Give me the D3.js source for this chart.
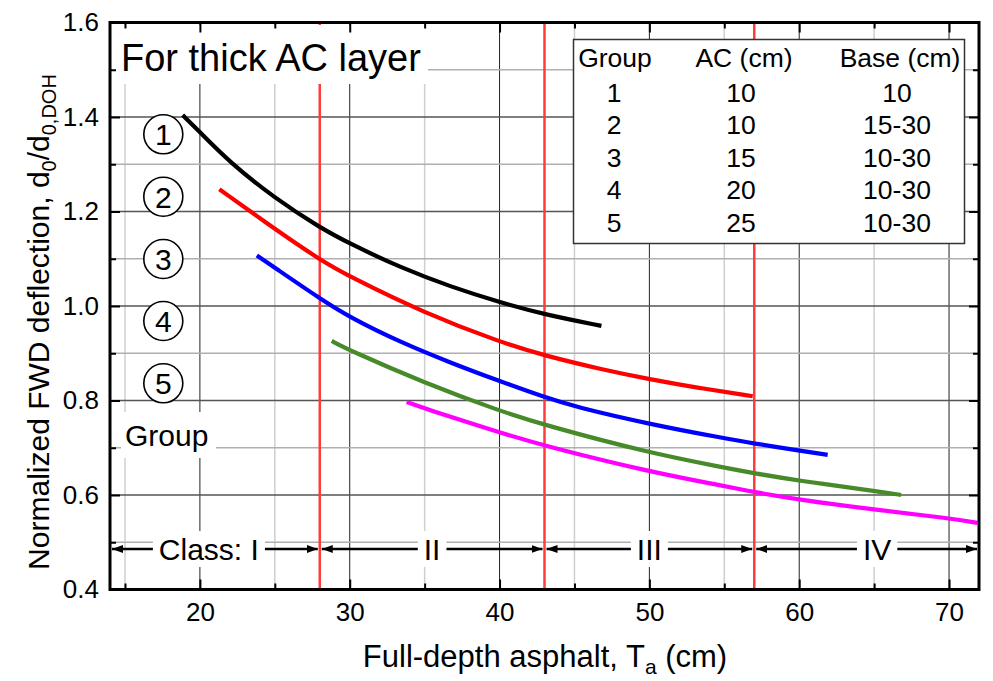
<!DOCTYPE html>
<html>
<head>
<meta charset="utf-8">
<script src="https://cdn.jsdelivr.net/npm/d3@7"></script>
<style>
  body { margin: 0; background: #fff; }
  text { font-family: "Liberation Sans", Arial, sans-serif; }
</style>
</head>
<body>
<div id="viz"></div>
<script>
// data
const g1x = [18.85, 20, 22, 25, 28, 30, 33.4, 36.8, 40, 43, 46.8];
const g1y = [1.404, 1.368, 1.304, 1.228, 1.166, 1.132, 1.081, 1.040, 1.008, 0.982, 0.958];
const g2x = [21.3, 25, 28, 30, 35, 40, 43, 46.8, 50, 53.4, 56.9];
const g2y = [1.247, 1.163, 1.098, 1.062, 0.985, 0.924, 0.895, 0.866, 0.845, 0.826, 0.809];
const g3x = [23.8, 25, 28, 30, 33.4, 36.8, 40, 43, 45, 50, 55, 57, 60, 61.9];
const g3y = [1.107, 1.081, 1.016, 0.976, 0.923, 0.879, 0.841, 0.807, 0.787, 0.750, 0.720, 0.709, 0.694, 0.685];
const g4x = [28.8, 30, 35, 40, 43, 50, 55, 57, 60, 65, 66.8];
const g4y = [0.926, 0.906, 0.837, 0.778, 0.748, 0.689, 0.658, 0.646, 0.630, 0.609, 0.600];
const g5x = [33.8, 35, 40, 43, 50, 55, 57, 60, 65, 70, 71.9];
const g5y = [0.797, 0.783, 0.732, 0.704, 0.649, 0.619, 0.606, 0.590, 0.569, 0.551, 0.541];
const groupColors = ["#000000", "#ff0000", "#0000ff", "#468a2a", "#ff00ff"];

const xMajor = [20, 30, 40, 50, 60, 70];
const xMinor = [15, 25, 35, 45, 55, 65];
const yMajor = [0.4, 0.6, 0.8, 1.0, 1.2, 1.4, 1.6];
const yMinor = [0.5, 0.7, 0.9, 1.1, 1.3, 1.5];

const classBounds = [14, 28, 43, 57, 72];
const classLabels = ["Class: I", "II", "III", "IV"];
const classLabelX = [20.6, 35.5, 50, 65.2];

const legendHead = ["Group", "AC (cm)", "Base (cm)"];
const legendGroup = ["1", "2", "3", "4", "5"];
const legendAC = ["10", "10", "15", "20", "25"];
const legendBase = ["10", "15-30", "10-30", "10-30", "10-30"];

const W = 993, H = 681;
const svg = d3.select("#viz").append("svg").attr("width", W).attr("height", H);

const x = d3.scaleLinear().domain([14, 72]).range([110, 979]);
const y = d3.scaleLinear().domain([0.4, 1.6]).range([589.5, 22.5]);
const pTop = y.range()[1], pBot = y.range()[0], pLeft = x.range()[0], pRight = x.range()[1];

// grid
const grid = svg.append("g");
grid.selectAll(".vmin").data(xMinor).join("line")
  .attr("x1", d => x(d)).attr("x2", d => x(d)).attr("y1", pTop).attr("y2", pBot)
  .attr("stroke", "#cfcfcf").attr("stroke-width", 1.5);
grid.selectAll(".vmaj").data(xMajor).join("line")
  .attr("x1", d => x(d)).attr("x2", d => x(d)).attr("y1", pTop).attr("y2", pBot)
  .attr("stroke", "#222").attr("stroke-width", 1);
grid.selectAll(".hmin").data(yMinor).join("line")
  .attr("x1", pLeft).attr("x2", pRight).attr("y1", d => y(d)).attr("y2", d => y(d))
  .attr("stroke", "#b0b0b0").attr("stroke-width", 1.5);
grid.selectAll(".hmaj").data(yMajor).join("line")
  .attr("x1", pLeft).attr("x2", pRight).attr("y1", d => y(d)).attr("y2", d => y(d))
  .attr("stroke", "#555").attr("stroke-width", 1.5);

// red class boundaries
svg.append("g").selectAll("line").data(classBounds.slice(1, -1)).join("line")
  .attr("x1", d => x(d)).attr("x2", d => x(d)).attr("y1", pTop).attr("y2", pBot)
  .attr("stroke", "#ff3c3c").attr("stroke-width", 2.5);

// curves
const series = [[g1x, g1y], [g2x, g2y], [g3x, g3y], [g4x, g4y], [g5x, g5y]];
const line = d3.line().x(d => x(d[0])).y(d => y(d[1])).curve(d3.curveBasis);
svg.append("g").selectAll("path").data(series).join("path")
  .attr("d", s => line(s[0].map((v, i) => [v, s[1][i]])))
  .attr("fill", "none")
  .attr("stroke", (s, i) => groupColors[i])
  .attr("stroke-width", 4.2)
  .attr("stroke-linecap", "butt");

// class arrows
const defs = svg.append("defs");
defs.append("marker").attr("id", "arr").attr("viewBox", "0 0 11 8")
  .attr("refX", 11).attr("refY", 4).attr("markerWidth", 11).attr("markerHeight", 8)
  .attr("markerUnits", "userSpaceOnUse").attr("orient", "auto-start-reverse")
  .append("path").attr("d", "M0,0L11,4L0,8Z").attr("fill", "#000");
const ay = 549;
const cls = svg.append("g");
cls.selectAll("line").data(d3.range(classLabels.length)).join("line")
  .attr("x1", i => x(classBounds[i]) + 2).attr("x2", i => x(classBounds[i + 1]) - 2)
  .attr("y1", ay).attr("y2", ay)
  .attr("stroke", "#000").attr("stroke-width", 2.5)
  .attr("marker-start", "url(#arr)").attr("marker-end", "url(#arr)");
cls.selectAll("text").data(classLabels).join("text")
  .attr("x", (d, i) => x(classLabelX[i])).attr("y", ay + 11)
  .attr("text-anchor", "middle").attr("font-size", 30).text(d => d)
  .each(function () {
    const b = this.getBBox();
    d3.select(this.parentNode).insert("rect", "text")
      .attr("x", b.x - 6).attr("y", ay - 18).attr("width", b.width + 12).attr("height", 36)
      .attr("fill", "#fff");
  });

// title label
svg.append("rect").attr("x", 112).attr("y", 25).attr("width", 316).attr("height", 59).attr("fill", "#fff");
svg.append("text").attr("x", 121).attr("y", 71).attr("font-size", 38).text("For thick AC layer");

// circled group numbers
const circleY = [134.3, 196.7, 259, 321, 383.3];
const circ = svg.append("g").selectAll("g").data(legendGroup).join("g")
  .attr("transform", (d, i) => `translate(163.3,${circleY[i]})`);
circ.append("circle").attr("r", 19.5).attr("fill", "#fff").attr("stroke", "#000").attr("stroke-width", 1.6);
circ.append("text").attr("text-anchor", "middle").attr("dy", "0.36em").attr("font-size", 30).text(d => d);

svg.append("rect").attr("x", 121).attr("y", 412).attr("width", 95).attr("height", 46).attr("fill", "#fff");
svg.append("text").attr("x", 125).attr("y", 446).attr("font-size", 30).text("Group");

// legend table
const lg = svg.append("g");
lg.append("rect").attr("x", 573.5).attr("y", 39.5).attr("width", 391).attr("height", 204)
  .attr("fill", "#fff").attr("stroke", "#333").attr("stroke-width", 1.5);
const colX = [615, 744, 900];
const rowY = [101.7, 134, 166.7, 199.3, 232.3];
lg.selectAll(".hd").data(legendHead).join("text")
  .attr("x", (d, i) => colX[i]).attr("y", 67).attr("text-anchor", "middle")
  .attr("font-size", 26.5).text(d => d);
[legendGroup, legendAC, legendBase].forEach((col, c) => {
  const cx = [614, 741, 897][c];
  lg.append("g").selectAll("text").data(col).join("text")
    .attr("x", cx).attr("y", (d, i) => rowY[i]).attr("text-anchor", "middle")
    .attr("font-size", 26.5).text(d => d);
});

// axes (ticks inside)
const fmt = d3.format(".1f");
svg.append("g").attr("transform", `translate(0,${pBot})`)
  .call(d3.axisBottom(x).tickValues(xMajor).tickSize(-10).tickPadding(13));
svg.append("g").attr("transform", `translate(0,${pBot})`)
  .call(d3.axisBottom(x).tickValues(xMinor).tickSize(-6).tickFormat(""));
svg.append("g").attr("transform", `translate(0,${pTop})`)
  .call(d3.axisTop(x).tickValues(xMajor).tickSize(-10).tickFormat(""));
svg.append("g").attr("transform", `translate(0,${pTop})`)
  .call(d3.axisTop(x).tickValues(xMinor).tickSize(-6).tickFormat(""));
svg.append("g").attr("transform", `translate(${pLeft},0)`)
  .call(d3.axisLeft(y).tickValues(yMajor).tickSize(-10).tickPadding(11).tickFormat(fmt));
svg.append("g").attr("transform", `translate(${pLeft},0)`)
  .call(d3.axisLeft(y).tickValues(yMinor).tickSize(-6).tickFormat(""));
svg.append("g").attr("transform", `translate(${pRight},0)`)
  .call(d3.axisRight(y).tickValues(yMajor).tickSize(-10).tickFormat(""));
svg.append("g").attr("transform", `translate(${pRight},0)`)
  .call(d3.axisRight(y).tickValues(yMinor).tickSize(-6).tickFormat(""));
svg.selectAll(".domain").remove();
svg.selectAll(".tick line").attr("stroke", "#000").attr("stroke-width", 2);
svg.selectAll(".tick text").attr("font-size", 26).attr("fill", "#000")
  .attr("font-family", "'Liberation Sans', Arial, sans-serif");

svg.append("rect").attr("x", pLeft).attr("y", pTop).attr("width", pRight - pLeft).attr("height", pBot - pTop)
  .attr("fill", "none").attr("stroke", "#000").attr("stroke-width", 3);

// axis titles
const xt = svg.append("text").attr("x", 545).attr("y", 667).attr("text-anchor", "middle").attr("font-size", 31);
xt.append("tspan").text("Full-depth asphalt, T");
xt.append("tspan").attr("font-size", 21).attr("dy", 7).text("a");
xt.append("tspan").attr("dy", -7).text(" (cm)");

const yt = svg.append("text").attr("transform", "translate(49,322) rotate(-90)")
  .attr("text-anchor", "middle").attr("font-size", 30);
yt.append("tspan").text("Normalized FWD deflection, d");
yt.append("tspan").attr("font-size", 20).attr("dy", 7).text("0");
yt.append("tspan").attr("dy", -7).text("/d");
yt.append("tspan").attr("font-size", 20).attr("dy", 7).text("0,DOH");
</script>
</body>
</html>
